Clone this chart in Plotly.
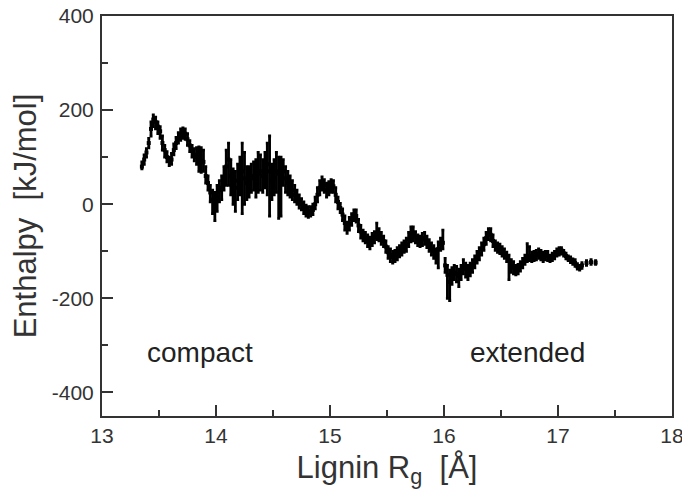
import plotly.graph_objects as go

# Lignin radius of gyration (Å)
rg = [13.35, 13.37, 13.39, 13.41, 13.43, 13.45, 13.47, 13.49, 13.51, 13.53,
      13.55, 13.57, 13.59, 13.61, 13.63, 13.65, 13.67, 13.69, 13.71, 13.73,
      13.75, 13.77, 13.79, 13.81, 13.83, 13.85, 13.87, 13.89, 13.91, 13.93,
      13.95, 13.97, 13.99, 14.01, 14.03, 14.05, 14.07, 14.09, 14.11, 14.13,
      14.15, 14.17, 14.19, 14.21, 14.23, 14.25, 14.27, 14.29, 14.31, 14.33,
      14.35, 14.37, 14.39, 14.41, 14.43, 14.45, 14.47, 14.49, 14.51, 14.53,
      14.55, 14.57, 14.59, 14.61, 14.63, 14.65, 14.67, 14.69, 14.71, 14.73,
      14.75, 14.77, 14.79, 14.81, 14.83, 14.85, 14.87, 14.89, 14.91, 14.93,
      14.95, 14.97, 14.99, 15.01, 15.03, 15.05, 15.07, 15.09, 15.11, 15.13,
      15.15, 15.17, 15.19, 15.21, 15.23, 15.25, 15.27, 15.29, 15.31, 15.33,
      15.35, 15.37, 15.39, 15.41, 15.43, 15.45, 15.47, 15.49, 15.51, 15.53,
      15.55, 15.57, 15.59, 15.61, 15.63, 15.65, 15.67, 15.69, 15.71, 15.73,
      15.75, 15.77, 15.79, 15.81, 15.83, 15.85, 15.87, 15.89, 15.91, 15.93,
      15.95, 15.97, 15.99, 16.01, 16.03, 16.05, 16.07, 16.09, 16.11, 16.13,
      16.15, 16.17, 16.19, 16.21, 16.23, 16.25, 16.27, 16.29, 16.31, 16.33,
      16.35, 16.37, 16.39, 16.41, 16.43, 16.45, 16.47, 16.49, 16.51, 16.53,
      16.55, 16.57, 16.59, 16.61, 16.63, 16.65, 16.67, 16.69, 16.71, 16.73,
      16.75, 16.77, 16.79, 16.81, 16.83, 16.85, 16.87, 16.89, 16.91, 16.93,
      16.95, 16.97, 16.99, 17.01, 17.03, 17.05, 17.07, 17.09, 17.11, 17.13,
      17.15, 17.17, 17.19, 17.21, 17.25, 17.29, 17.33]

# Enthalpy (kJ/mol): typical value and sampled spread at each Rg
enthalpy = [80, 95, 110, 130, 160, 180, 175, 165, 155, 130,
            115, 100, 92, 95, 115, 130, 140, 148, 152, 150,
            138, 125, 115, 105, 100, 95, 92, 90, 60, 45,
            25, 10, 0, 15, 30, 35, 55, 80, 95, 60,
            45, 35, 50, 65, 70, 55, 45, 50, 55, 60,
            50, 65, 70, 60, 75, 85, 70, 50, 55, 70,
            65, 60, 70, 55, 45, 40, 30, 20, 12, 5,
            0, -8, -15, -18, -15, -12, 0, 20, 35, 45,
            40, 30, 35, 40, 38, 20, 5, -8, -22, -40,
            -50, -42, -32, -22, -25, -45, -58, -66, -72, -78,
            -82, -75, -70, -62, -65, -72, -78, -90, -102, -108,
            -112, -110, -105, -100, -95, -90, -85, -75, -65, -62,
            -70, -75, -78, -75, -72, -80, -88, -95, -100, -108,
            -95, -85, -82, -130, -150, -165, -150, -145, -148, -152,
            -145, -132, -138, -145, -138, -130, -122, -112, -105, -95,
            -85, -72, -62, -65, -78, -88, -92, -95, -100, -105,
            -112, -120, -130, -135, -140, -138, -132, -125, -118, -112,
            -110, -112, -110, -108, -105, -108, -112, -108, -110, -115,
            -112, -108, -102, -100, -98, -104, -110, -115, -118, -122,
            -125, -132, -135, -130, -125, -123, -124]

enthalpy_low = [75, 85, 100, 120, 145, 165, 160, 150, 140, 115,
                100, 90, 82, 85, 105, 118, 130, 136, 140, 138,
                125, 112, 100, 92, 85, 70, 68, 70, 45, 30,
                5, -20, -35, -15, 5, 10, 30, 40, 40, 20,
                0, -15, 10, 20, -20, 0, 10, 15, 25, 30,
                15, 25, 30, 25, 35, 20, -25, 10, 20, 25,
                -30, -25, 40, 25, 20, 15, 10, 5, 0, -8,
                -12, -20, -25, -28, -25, -22, -10, 5, 20, 30,
                25, 15, 20, 25, 25, 5, -10, -18, -35, -55,
                -62, -55, -45, -35, -38, -58, -72, -78, -82, -90,
                -95, -88, -82, -75, -78, -85, -90, -102, -115, -122,
                -125, -122, -118, -112, -108, -102, -100, -90, -80, -78,
                -82, -88, -90, -88, -85, -92, -100, -108, -115, -125,
                -135, -98, -95, -145, -200, -205, -170, -160, -165, -175,
                -160, -148, -155, -160, -152, -145, -135, -125, -118, -108,
                -98, -85, -75, -78, -90, -98, -102, -105, -110, -115,
                -122, -160, -145, -148, -150, -148, -142, -135, -128, -122,
                -120, -122, -120, -118, -115, -118, -122, -118, -120, -122,
                -120, -116, -110, -108, -106, -110, -116, -120, -124, -128,
                -132, -138, -140, -136, -130, -128, -128]

enthalpy_high = [90, 105, 118, 140, 175, 190, 185, 175, 165, 145,
                 125, 112, 100, 108, 128, 142, 152, 160, 162, 160,
                 150, 135, 125, 118, 120, 122, 120, 115, 80, 60,
                 40, 30, 25, 40, 50, 60, 80, 115, 130, 95,
                 75, 70, 85, 100, 130, 110, 80, 80, 85, 90,
                 95, 110, 105, 95, 110, 130, 145, 85, 95, 110,
                 100, 100, 95, 80, 70, 60, 50, 40, 30, 20,
                 12, 5, -2, -5, -5, 0, 15, 35, 50, 58,
                 52, 45, 48, 52, 50, 35, 15, 2, -10, -25,
                 -38, -28, -20, -12, -12, -32, -45, -55, -60, -65,
                 -70, -62, -58, -40, -52, -60, -68, -78, -90, -95,
                 -100, -98, -92, -88, -82, -78, -72, -60, -48, -48,
                 -58, -65, -68, -62, -60, -68, -75, -82, -88, -95,
                 -80, -72, -55, -115, -130, -140, -135, -130, -132, -138,
                 -130, -118, -125, -130, -125, -118, -110, -100, -92, -82,
                 -72, -60, -52, -52, -65, -78, -82, -85, -90, -95,
                 -102, -108, -118, -122, -130, -128, -122, -115, -108, -84,
                 -90, -102, -100, -98, -95, -98, -102, -100, -100, -108,
                 -104, -100, -95, -92, -92, -98, -104, -110, -112, -116,
                 -118, -126, -130, -124, -120, -118, -120]

x_ticks = [13, 14, 15, 16, 17, 18]
y_ticks = [-400, -200, 0, 200, 400]
labels = ["compact", "extended"]
label_x = [13.86, 16.73]
label_y = [-315, -315]

err_plus = [h - m for h, m in zip(enthalpy_high, enthalpy)]
err_minus = [m - l for m, l in zip(enthalpy, enthalpy_low)]

FONT = "Liberation Sans, Arial, Helvetica, sans-serif"

fig = go.Figure()
fig.add_trace(go.Scatter(
    x=rg, y=enthalpy, mode="markers",
    marker=dict(symbol="square", size=4, color="black", line=dict(width=0)),
    error_y=dict(type="data", symmetric=False, array=err_plus,
                 arrayminus=err_minus, width=1.5, thickness=2.8, color="black"),
    showlegend=False, hoverinfo="x+y",
))

for txt, lx, ly in zip(labels, label_x, label_y):
    fig.add_annotation(x=lx, y=ly, text=txt, showarrow=False,
                       font=dict(family=FONT, size=28, color="#222"),
                       xanchor="center", yanchor="middle")

axis_common = dict(
    showline=True, mirror=True, linecolor="#333", linewidth=2,
    ticks="inside", ticklen=11, tickwidth=2, tickcolor="#333",
    showgrid=False, zeroline=False, automargin=False,
    ticklabeloverflow="allow",
    tickfont=dict(family=FONT, size=21, color="#333"),
)

fig.update_xaxes(
    range=[13, 18], tickvals=x_ticks, ticktext=[str(v) for v in x_ticks],
    minor=dict(ticks="inside", ticklen=6, tickwidth=2, tickcolor="#333", dtick=0.5),
    title=dict(text="Lignin R<sub>g</sub>\u00a0\u00a0[Å]", standoff=10,
               font=dict(family=FONT, size=31, color="#333")),
    **axis_common,
)
fig.update_yaxes(
    range=[-450, 400], tickvals=y_ticks, ticktext=[str(v) for v in y_ticks],
    minor=dict(ticks="inside", ticklen=6, tickwidth=2, tickcolor="#333", dtick=100, tick0=0),
    title=dict(text="Enthalpy\u00a0\u00a0[kJ/mol]", standoff=8,
               font=dict(family=FONT, size=31, color="#333")),
    ticklabelstandoff=2,
    **axis_common,
)

# the page body adds an 8 px offset, so the figure is sized to end at the window edge
fig.update_layout(
    width=682, height=485,
    margin=dict(l=94, r=18, t=8, b=77),
    plot_bgcolor="white", paper_bgcolor="white",
    font=dict(family=FONT),
)

fig.write_html("out.html")
